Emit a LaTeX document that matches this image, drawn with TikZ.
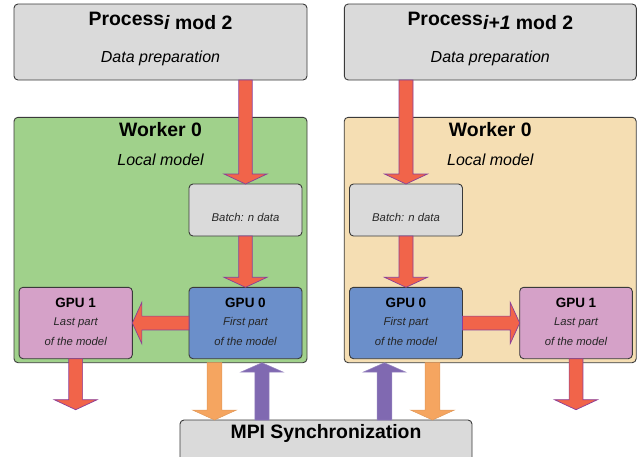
\documentclass[tikz,border=0pt]{standalone}
\usepackage{fontspec}
\setmainfont{Liberation Sans}
\usetikzlibrary{calc}
\definecolor{gfill}{HTML}{DADADA}
\definecolor{boxline}{HTML}{3A3A3A}
\definecolor{greenw}{HTML}{A0D18B}
\definecolor{wheatw}{HTML}{F5DEB3}
\definecolor{gpublue}{HTML}{6B8FCA}
\definecolor{gpupink}{HTML}{D5A1C8}
\definecolor{redfill}{HTML}{F1644A}
\definecolor{redline}{HTML}{8A3E98}
\definecolor{orangefill}{HTML}{F5A560}
\definecolor{purplefill}{HTML}{8069B1}
\newcommand\blockarrow[6]{%
  \coordinate (bahb) at ($(#2)!#5!(#1)$);
  \filldraw[#6] ($(#1)!#3!90:(#2)$) -- ($(bahb)!#3!90:(#2)$) -- ($(bahb)!#4!90:(#2)$) -- (#2)
    -- ($(bahb)!#4!-90:(#2)$) -- ($(bahb)!#3!-90:(#2)$) -- ($(#1)!#3!-90:(#2)$) -- cycle;}
\begin{document}
\begin{tikzpicture}[x=1pt,y=-1pt,
  box/.style={draw=boxline, rounded corners=4pt, line width=0.9pt, inner sep=0pt, outer sep=0pt},
  titlefont/.style={font=\fontsize{19.4}{21}\selectfont\bfseries, inner sep=0pt},
  subfont/.style={font=\fontsize{16}{18}\selectfont\itshape, inner sep=0pt},
  gpufont/.style={font=\fontsize{13.5}{15}\selectfont\bfseries, inner sep=0pt},
  smallfont/.style={font=\fontsize{11.3}{13}\selectfont\itshape, inner sep=0pt, text=black!85},
  redarr/.style={fill=redfill, draw=redline, line width=0.7pt},
  orarr/.style={fill=orangefill, draw=orangefill!92!black, line width=0.5pt},
  puarr/.style={fill=purplefill, draw=purplefill!80!white, line width=0.5pt}]
\useasboundingbox (0,0) rectangle (637,456);
\clip (0,0) rectangle (637,456);
% process boxes
\node[box, fill=gfill, minimum width=293pt, minimum height=76pt] (procL) at (160.5,42) {};
\node[box, fill=gfill, minimum width=292pt, minimum height=76pt] (procR) at (490.3,42) {};
\node[titlefont, anchor=base] (tprocL) at (160.5,25.5) {Process\raisebox{-3.5pt}{\textit{i} mod 2}};
\node[titlefont, anchor=base] (tprocR) at (490.3,25.5) {Process\raisebox{-3.5pt}{\textit{i+1} mod 2}};
\node[subfont, anchor=base] (dprocL) at (160.5,62.5) {Data preparation};
\node[subfont, anchor=base] (dprocR) at (490.3,62.5) {Data preparation};
% workers
\node[box, fill=greenw, minimum width=293pt, minimum height=245.4pt] (workL) at (160.5,240) {};
\node[box, fill=wheatw, minimum width=292pt, minimum height=245.4pt] (workR) at (490.2,240) {};
\node[titlefont, anchor=base] (twL) at (160.5,136.7) {Worker 0};
\node[titlefont, anchor=base] (twR) at (490.3,136.7) {Worker 0};
\node[subfont, anchor=base] (lmL) at (160.5,165) {Local model};
\node[subfont, anchor=base] (lmR) at (490.3,165) {Local model};
% batch boxes
\node[box, fill=gfill, minimum width=113pt, minimum height=52pt] (batchL) at (245.5,210) {};
\node[box, fill=gfill, minimum width=113pt, minimum height=52pt] (batchR) at (406,210) {};
\node[smallfont, anchor=base] (tbL) at (245.5,221.5) {Batch: n data};
\node[smallfont, anchor=base] (tbR) at (406,221.5) {Batch: n data};
% GPU boxes
\node[box, fill=gpublue, minimum width=113pt, minimum height=71.4pt] (gpu0L) at (245.5,323) {};
\node[box, fill=gpupink, minimum width=113.3pt, minimum height=71.4pt] (gpu1L) at (75.7,323) {};
\node[box, fill=gpublue, minimum width=113pt, minimum height=71.4pt] (gpu0R) at (406,323) {};
\node[box, fill=gpupink, minimum width=112.6pt, minimum height=71.4pt] (gpu1R) at (576,323) {};
\foreach \g/\t/\a/\b in {gpu0L/GPU 0/First part/of the model, gpu1L/GPU 1/Last part/of the model,
                          gpu0R/GPU 0/First part/of the model, gpu1R/GPU 1/Last part/of the model}{
  \node[gpufont, anchor=base] (\g-t) at ($(\g.center)+(0,-15.7)$) {\t};
  \node[smallfont, anchor=base] (\g-a) at ($(\g.center)+(0,2)$) {\a};
  \node[smallfont, anchor=base] (\g-b) at ($(\g.center)+(0,22)$) {\b};
}
% MPI box
\node[box, fill=gfill, minimum width=292pt, minimum height=60pt] (mpi) at (326,450) {};
\node[titlefont, anchor=base] (tmpi) at (326,438.3) {MPI Synchronization};
% red arrows
\coordinate (a1s) at (procL.south -| batchL.north);
\blockarrow{a1s}{batchL.north}{6.7pt}{21.5pt}{10pt}{redarr}
\blockarrow{batchL.south}{gpu0L.north}{6.7pt}{21.5pt}{10pt}{redarr}
\blockarrow{gpu0L.west}{gpu1L.east}{6.9pt}{20.7pt}{9.5pt}{redarr}
\coordinate (outL) at ($(gpu1L.south)+(0,51)$);
\blockarrow{gpu1L.south}{outL}{6.9pt}{21.5pt}{10pt}{redarr}
\coordinate (a2s) at (procR.south -| batchR.north);
\blockarrow{a2s}{batchR.north}{7pt}{21.5pt}{10pt}{redarr}
\blockarrow{batchR.south}{gpu0R.north}{7pt}{21.5pt}{10pt}{redarr}
\blockarrow{gpu0R.east}{gpu1R.west}{6.9pt}{20.7pt}{9.5pt}{redarr}
\coordinate (outR) at ($(gpu1R.south)+(0,51)$);
\blockarrow{gpu1R.south}{outR}{6.9pt}{21.5pt}{10pt}{redarr}
% MPI arrows
\coordinate (oLs) at (214.5,362.7);
\coordinate (oLe) at (oLs |- mpi.north);
\blockarrow{oLs}{oLe}{7.3pt}{22pt}{10pt}{orarr}
\coordinate (pLe) at (262,362.7);
\coordinate (pLs) at (pLe |- mpi.north);
\blockarrow{pLs}{pLe}{7.2pt}{21.5pt}{9.5pt}{puarr}
\coordinate (pRe) at (384.5,362.7);
\coordinate (pRs) at (pRe |- mpi.north);
\blockarrow{pRs}{pRe}{7.3pt}{21.5pt}{9.5pt}{puarr}
\coordinate (oRs) at (432.5,362.7);
\coordinate (oRe) at (oRs |- mpi.north);
\blockarrow{oRs}{oRe}{7.3pt}{22pt}{10pt}{orarr}
\end{tikzpicture}
\end{document}
